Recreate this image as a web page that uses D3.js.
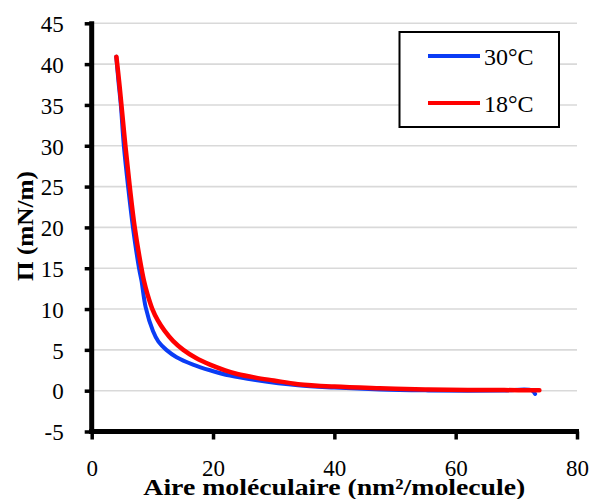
<!DOCTYPE html>
<html>
<head>
<meta charset="utf-8">
<script src="https://cdn.jsdelivr.net/npm/d3@7/dist/d3.min.js"></script>
<style>
  html, body { margin: 0; padding: 0; background: #fff; }
  svg { display: block; }
  svg text { font-family: "Liberation Serif", "DejaVu Serif", serif !important; }
</style>
</head>
<body>
<svg id="chart" width="592" height="499"></svg>
<script>
// ---- Data ----
const seriesNames = ["30°C", "18°C"];
const seriesColors = ["#0a3cf5", "#ff0000"];

// 30°C (blue)
const area30 = [4.05, 4.4, 4.8, 5.3, 6.0, 6.8, 7.8, 8.2, 8.9, 10.1, 11.0, 12.3, 14.0, 16.7, 19.5, 22.8, 27, 34, 40, 47.5, 55, 62, 68, 72.5, 73.1];
const pi30   = [40.9, 38, 35, 30, 25, 20, 15, 13.5, 10.2, 7.3, 6.0, 5.0, 4.1, 3.2, 2.5, 1.84, 1.3, 0.65, 0.38, 0.15, 0.04, 0.0, 0.03, 0.05, -0.4];

// 18°C (red)
const area18 = [4.07, 4.5, 4.9, 5.55, 6.27, 7.09, 8.2, 8.6, 9.2, 10.0, 10.9, 12.0, 13.4, 15.1, 17.2, 19.5, 22.0, 24.0, 27, 30, 34, 40, 47.5, 55, 62, 68, 73.8];
const pi18   = [40.9, 38, 35, 30, 25, 20, 15, 13.5, 11.8, 10, 8.6, 7.35, 6.1, 5.0, 4.0, 3.2, 2.5, 2.05, 1.6, 1.25, 0.8, 0.5, 0.3, 0.15, 0.08, 0.07, 0.05];

const xTicks = [0, 20, 40, 60, 80];
const yTicks = [-5, 0, 5, 10, 15, 20, 25, 30, 35, 40, 45];
const xTitle = "Aire moléculaire (nm²/molecule)";
const yTitle = "Π (mN/m)";

// ---- Chart ----
const svg = d3.select("#chart");
const x = d3.scaleLinear().domain([0, 80]).range([91.7, 577]);
const y = d3.scaleLinear().domain([-5, 45]).range([431.5, 23.3]);
const fmt = d => String(d); // plain hyphen minus, as in the reference

// gridlines
svg.append("g")
  .selectAll("line")
  .data(yTicks.filter(d => d > -5))
  .join("line")
  .attr("x1", x(0)).attr("x2", x(80))
  .attr("y1", d => y(d)).attr("y2", d => y(d))
  .attr("stroke", "#d9d9d9").attr("stroke-width", 1.6);

// series
const line = d3.line()
  .x(d => x(d[0])).y(d => y(d[1]))
  .curve(d3.curveCatmullRom.alpha(0.5));

const data30 = area30.map((a, i) => [a, pi30[i]]);
const data18 = area18.map((a, i) => [a, pi18[i]]);

svg.append("path").datum(data30)
  .attr("d", line).attr("fill", "none")
  .attr("stroke", seriesColors[0]).attr("stroke-width", 4)
  .attr("stroke-linejoin", "round").attr("stroke-linecap", "round");
svg.append("path").datum(data18)
  .attr("d", line).attr("fill", "none")
  .attr("stroke", seriesColors[1]).attr("stroke-width", 4.5)
  .attr("stroke-linejoin", "round").attr("stroke-linecap", "round");

// axes
const yAxis = d3.axisLeft(y).tickValues(yTicks).tickFormat(fmt).tickSize(7).tickSizeOuter(0).tickPadding(21);
const gy = svg.append("g").attr("transform", `translate(${x(0)},0)`).call(yAxis);
gy.attr("font-family", null);
gy.select(".domain").attr("stroke", "#000").attr("stroke-width", 5)
  .attr("d", `M0,${y(-5) + 2.5}V${y(45) - 2}`);
gy.selectAll(".tick line").attr("stroke", "#000").attr("stroke-width", 3.5);
gy.selectAll(".tick text")
  .attr("font-size", 23).attr("fill", "#000")
  .attr("dy", "0.36em");

const xAxis = d3.axisBottom(x).tickValues(xTicks).tickFormat(fmt).tickSize(8).tickSizeOuter(0);
const gx = svg.append("g").attr("transform", `translate(0,${y(-5)})`).call(xAxis);
gx.attr("font-family", null);
gx.select(".domain").attr("stroke", "#000").attr("stroke-width", 5)
  .attr("d", `M${x(0) - 2.5},0H${x(80) + 2}`);
gx.selectAll(".tick line").attr("stroke", "#000").attr("stroke-width", 3.5);
gx.selectAll(".tick text")
  .attr("font-size", 23).attr("fill", "#000")
  .attr("y", 44).attr("dy", 0);

// axis titles
svg.append("text")
  .attr("x", x(40)).attr("y", 495)
  .attr("text-anchor", "middle")
  .attr("font-size", 23).attr("font-weight", "bold")
  .attr("textLength", 382).attr("lengthAdjust", "spacingAndGlyphs")
  .text(xTitle);

svg.append("text")
  .attr("transform", `translate(32.5,226) rotate(-90)`)
  .attr("text-anchor", "middle")
  .attr("font-size", 23).attr("font-weight", "bold")
  .attr("textLength", 110).attr("lengthAdjust", "spacingAndGlyphs")
  .text(yTitle);

// legend
const lg = svg.append("g");
lg.append("rect")
  .attr("x", 399.5).attr("y", 32).attr("width", 159.5).attr("height", 95)
  .attr("fill", "#fff").attr("stroke", "#000").attr("stroke-width", 2);
const legendRows = [56, 103];
seriesNames.forEach((name, i) => {
  lg.append("line")
    .attr("x1", 428).attr("x2", 480)
    .attr("y1", legendRows[i]).attr("y2", legendRows[i])
    .attr("stroke", seriesColors[i]).attr("stroke-width", 4);
  lg.append("text")
    .attr("x", 484).attr("y", legendRows[i] + 8.5)
    .attr("font-size", 24).attr("fill", "#000")
    .text(name);
});
</script>
</body>
</html>
